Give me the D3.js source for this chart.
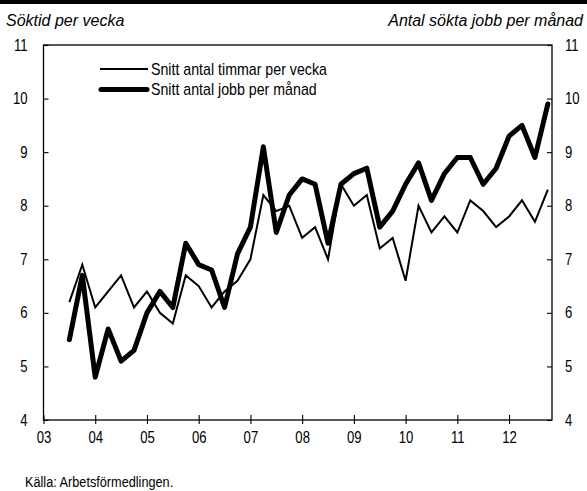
<!DOCTYPE html>
<html><head><meta charset="utf-8">
<script src="https://cdn.jsdelivr.net/npm/d3@7"></script>
<style>
body{margin:0;background:#fff;}
svg{display:block;}
text{font-family:"Liberation Sans",Arial,sans-serif;fill:#000;}
</style></head>
<body><svg id="c" width="587" height="491"></svg>
<script>
const quarters = ["03Q3","03Q4","04Q1","04Q2","04Q3","04Q4","05Q1","05Q2","05Q3","05Q4","06Q1","06Q2","06Q3","06Q4","07Q1","07Q2","07Q3","07Q4","08Q1","08Q2","08Q3","08Q4","09Q1","09Q2","09Q3","09Q4","10Q1","10Q2","10Q3","10Q4","11Q1","11Q2","11Q3","11Q4","12Q1","12Q2","12Q3","12Q4"];
const timmar = [6.2,6.9,6.1,6.4,6.7,6.1,6.4,6.0,5.8,6.7,6.5,6.1,6.4,6.6,7.0,8.2,7.9,8.0,7.4,7.6,7.0,8.4,8.0,8.2,7.2,7.4,6.6,8.0,7.5,7.8,7.5,8.1,7.9,7.6,7.8,8.1,7.7,8.3];
const jobb = [5.5,6.7,4.8,5.7,5.1,5.3,6.0,6.4,6.1,7.3,6.9,6.8,6.1,7.1,7.6,9.1,7.5,8.2,8.5,8.4,7.3,8.4,8.6,8.7,7.6,7.9,8.4,8.8,8.1,8.6,8.9,8.9,8.4,8.7,9.3,9.5,8.9,9.9];
const yearTicks = [2003,2004,2005,2006,2007,2008,2009,2010,2011,2012];
const yearLabels = ["03","04","05","06","07","08","09","10","11","12"];
const yTicks = [4,5,6,7,8,9,10,11];
const seriesNames = ["Snitt antal timmar per vecka","Snitt antal jobb per månad"];
const leftTitle = "Söktid per vecka";
const rightTitle = "Antal sökta jobb per månad";
const source = "Källa: Arbetsförmedlingen.";

const qx = q => 2000 + (+q.slice(0,2)) + (+q.slice(3) - 1) * 0.25;
function narrow(sel, sx){
  sx = sx || 0.82;
  sel.each(function(){
    const t = d3.select(this);
    const xx = +(t.attr("x")||0);
    t.attr("x",0).attr("transform",`translate(${xx},0) scale(${sx},1)`);
  });
}

const svg = d3.select("#c");
const L = 43.5, R = 552, T = 45, B = 420;
const x = d3.scaleLinear().domain([2003, 2012.83]).range([L, R]);
const y = d3.scaleLinear().domain([4, 11]).range([B, T]);

svg.append("rect").attr("x",0).attr("y",0).attr("width",587).attr("height",4).attr("fill","#000");

svg.append("rect").attr("x",L).attr("y",T).attr("width",R-L).attr("height",B-T)
  .attr("fill","none").attr("stroke","#000").attr("stroke-width",1.3);

const la = svg.append("g").attr("transform",`translate(${L},0)`)
  .call(d3.axisRight(y).tickValues(yTicks).tickSize(5).tickFormat(d3.format("d")));
la.select(".domain").remove();
la.selectAll("line").attr("stroke","#000").attr("stroke-width",1.1);
la.selectAll("text").attr("x",-16).attr("text-anchor","end").attr("font-size",16).call(narrow);

const ra = svg.append("g").attr("transform",`translate(${R},0)`)
  .call(d3.axisLeft(y).tickValues(yTicks).tickSize(5).tickFormat(d3.format("d")));
ra.select(".domain").remove();
ra.selectAll("line").attr("stroke","#000").attr("stroke-width",1.1);
ra.selectAll("text").attr("x",13).attr("text-anchor","start").attr("font-size",16).call(narrow);

const ba = svg.append("g").attr("transform",`translate(0,${B})`)
  .call(d3.axisBottom(x).tickValues(yearTicks).tickSize(0).tickFormat((d,i)=>yearLabels[i]));
ba.select(".domain").remove();
ba.selectAll(".tick line").attr("y1",-5).attr("y2",4).attr("stroke","#000").attr("stroke-width",1.1);
ba.selectAll("text").attr("y",12).attr("font-size",16).call(narrow);
[la,ra,ba].forEach(g=>g.attr("font-family",null).attr("font-size",null));

const line = d3.line().x((d,i)=>x(qx(quarters[i]))).y(d=>y(d));
svg.append("path").datum(timmar).attr("d",line).attr("fill","none").attr("stroke","#000").attr("stroke-width",2).attr("stroke-linejoin","miter");
svg.append("path").datum(jobb).attr("d",line).attr("fill","none").attr("stroke","#000").attr("stroke-width",5).attr("stroke-linejoin","round").attr("stroke-linecap","round");

const lg = svg.append("g");
lg.append("line").attr("x1",100).attr("x2",148).attr("y1",69).attr("y2",69).attr("stroke","#000").attr("stroke-width",2);
lg.append("line").attr("x1",101).attr("x2",147).attr("y1",89.5).attr("y2",89.5).attr("stroke","#000").attr("stroke-width",5).attr("stroke-linecap","round");
lg.append("text").attr("x",151).attr("y",75).attr("font-size",17).text(seriesNames[0]).call(narrow,0.835);
lg.append("text").attr("x",151).attr("y",95).attr("font-size",17).text(seriesNames[1]).call(narrow,0.835);

svg.append("text").attr("x",6).attr("y",26).attr("font-style","italic").attr("font-size",16).text(leftTitle);
svg.append("text").attr("x",583).attr("y",26).attr("text-anchor","end").attr("font-style","italic").attr("font-size",16).text(rightTitle);

svg.append("text").attr("x",25).attr("y",487).attr("font-size",15.5).text(source).call(narrow);
</script></body></html>
